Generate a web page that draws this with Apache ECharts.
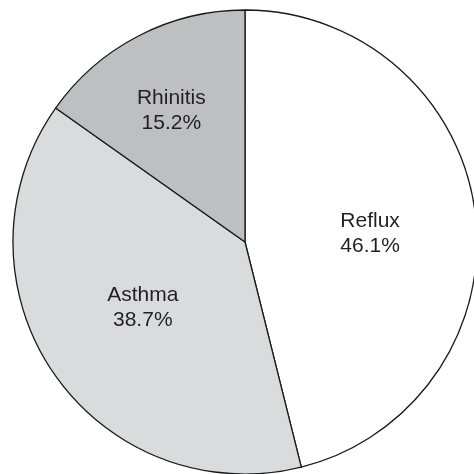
<!DOCTYPE html>
<html>
<head>
<meta charset="utf-8">
<script src="https://cdn.jsdelivr.net/npm/echarts@6/dist/echarts.min.js"></script>
<style>
  html, body { margin: 0; padding: 0; background: #ffffff; }
  #chart { width: 474px; height: 474px; }
</style>
</head>
<body>
<div id="chart"></div>
<script>
// Share of each condition (percent), clockwise from 12 o'clock
const categories = ['Reflux', 'Asthma', 'Rhinitis'];
const shares = [46.1, 38.7, 15.2];
const sliceColors = ['#ffffff', '#dadbdd', '#bebfc1'];
// Small per-slice nudges of the inner labels [dx, dy]
const labelNudges = [[7, 6], [-4, -1], [-19, -26]];

const chart = echarts.init(document.getElementById('chart'), null, { renderer: 'canvas' });

chart.setOption({
  animation: false,
  backgroundColor: '#ffffff',
  series: [{
    type: 'pie',
    center: [245, 242],
    radius: 232,
    startAngle: 90,
    clockwise: true,
    avoidLabelOverlap: false,
    label: {
      show: true,
      position: 'inner',
      formatter: p => p.name + '\n' + p.value.toFixed(1) + '%',
      fontFamily: 'Liberation Sans, Arial, sans-serif',
      fontSize: 21,
      lineHeight: 25,
      color: '#231f20',
      align: 'center'
    },
    labelLine: { show: false },
    labelLayout: p => ({ dx: labelNudges[p.dataIndex][0], dy: labelNudges[p.dataIndex][1] }),
    itemStyle: { borderColor: '#1a1a1a', borderWidth: 1.3 },
    emphasis: { disabled: true },
    data: categories.map((name, i) => ({
      name,
      value: shares[i],
      itemStyle: { color: sliceColors[i] }
    }))
  }]
});
</script>
</body>
</html>
